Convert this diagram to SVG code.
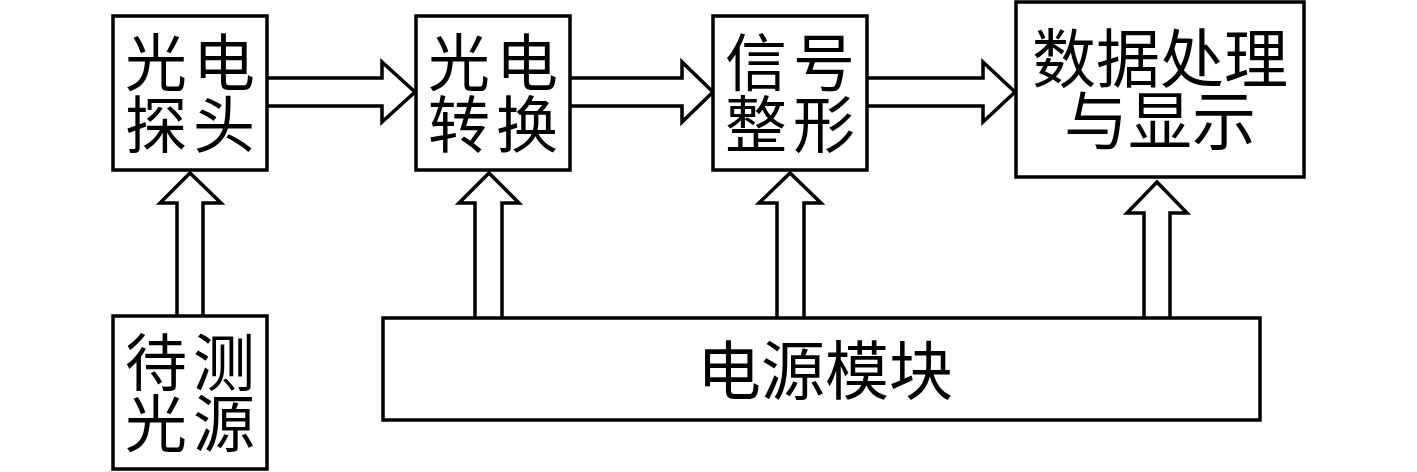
<svg xmlns="http://www.w3.org/2000/svg" width="1417" height="472" viewBox="0 0 1417 472">
<style>
.box{fill:#fff;stroke:#000;stroke-width:3.5}
.arr{fill:#fff;stroke:#000;stroke-width:3.5;stroke-linejoin:miter}
.t{font-family:"Noto Sans CJK SC","Noto Sans CJK JP",sans-serif;font-size:62px;fill:#000;text-anchor:middle;letter-spacing:6px}
.t2{font-family:"Noto Sans CJK SC","Noto Sans CJK JP",sans-serif;font-size:64px;fill:#000;text-anchor:middle}
</style>
<rect width="1417" height="472" fill="#fff"/>
<g id="connectors">
<path class="arr" d="M267,78 H382 V62 L415,92 L382,122 V106 H267"/>
<path class="arr" d="M570,78 H682 V62 L713,92 L682,122 V106 H570"/>
<path class="arr" d="M867,78 H983 V62 L1015,92 L983,122 V106 H867"/>
<path class="arr" d="M177,316 V203 H160 L190,173 L221,203 H203 V316"/>
<path class="arr" d="M475,318 V203 H459 L489,173 L519,203 H502 V318"/>
<path class="arr" d="M777,318 V203 H759 L790,173 L821,203 H804 V318"/>
<path class="arr" d="M1144,318 V213 H1127 L1157,182 L1187,213 H1170 V318"/>
</g>
<g id="probe">
<rect class="box" x="113" y="16" width="154" height="154"/>
<text class="t" x="193" y="86">光电</text>
<text class="t" x="193" y="148">探头</text>
</g>
<g id="convert">
<rect class="box" x="416" y="16" width="154" height="154"/>
<text class="t" x="496" y="86">光电</text>
<text class="t" x="496" y="148">转换</text>
</g>
<g id="shape">
<rect class="box" x="713" y="16" width="154" height="154"/>
<text class="t" x="793" y="86">信号</text>
<text class="t" x="793" y="148">整形</text>
</g>
<g id="display">
<rect class="box" x="1016" y="2" width="288" height="175"/>
<text class="t2" x="1160" y="82">数据处理</text>
<text class="t2" x="1160" y="144">与显示</text>
</g>
<g id="source">
<rect class="box" x="113" y="316" width="154" height="153"/>
<text class="t" x="193" y="386">待测</text>
<text class="t" x="193" y="447">光源</text>
</g>
<g id="power">
<rect class="box" x="383" y="318" width="877" height="102"/>
<text class="t2" x="825" y="394">电源模块</text>
</g>
</svg>
